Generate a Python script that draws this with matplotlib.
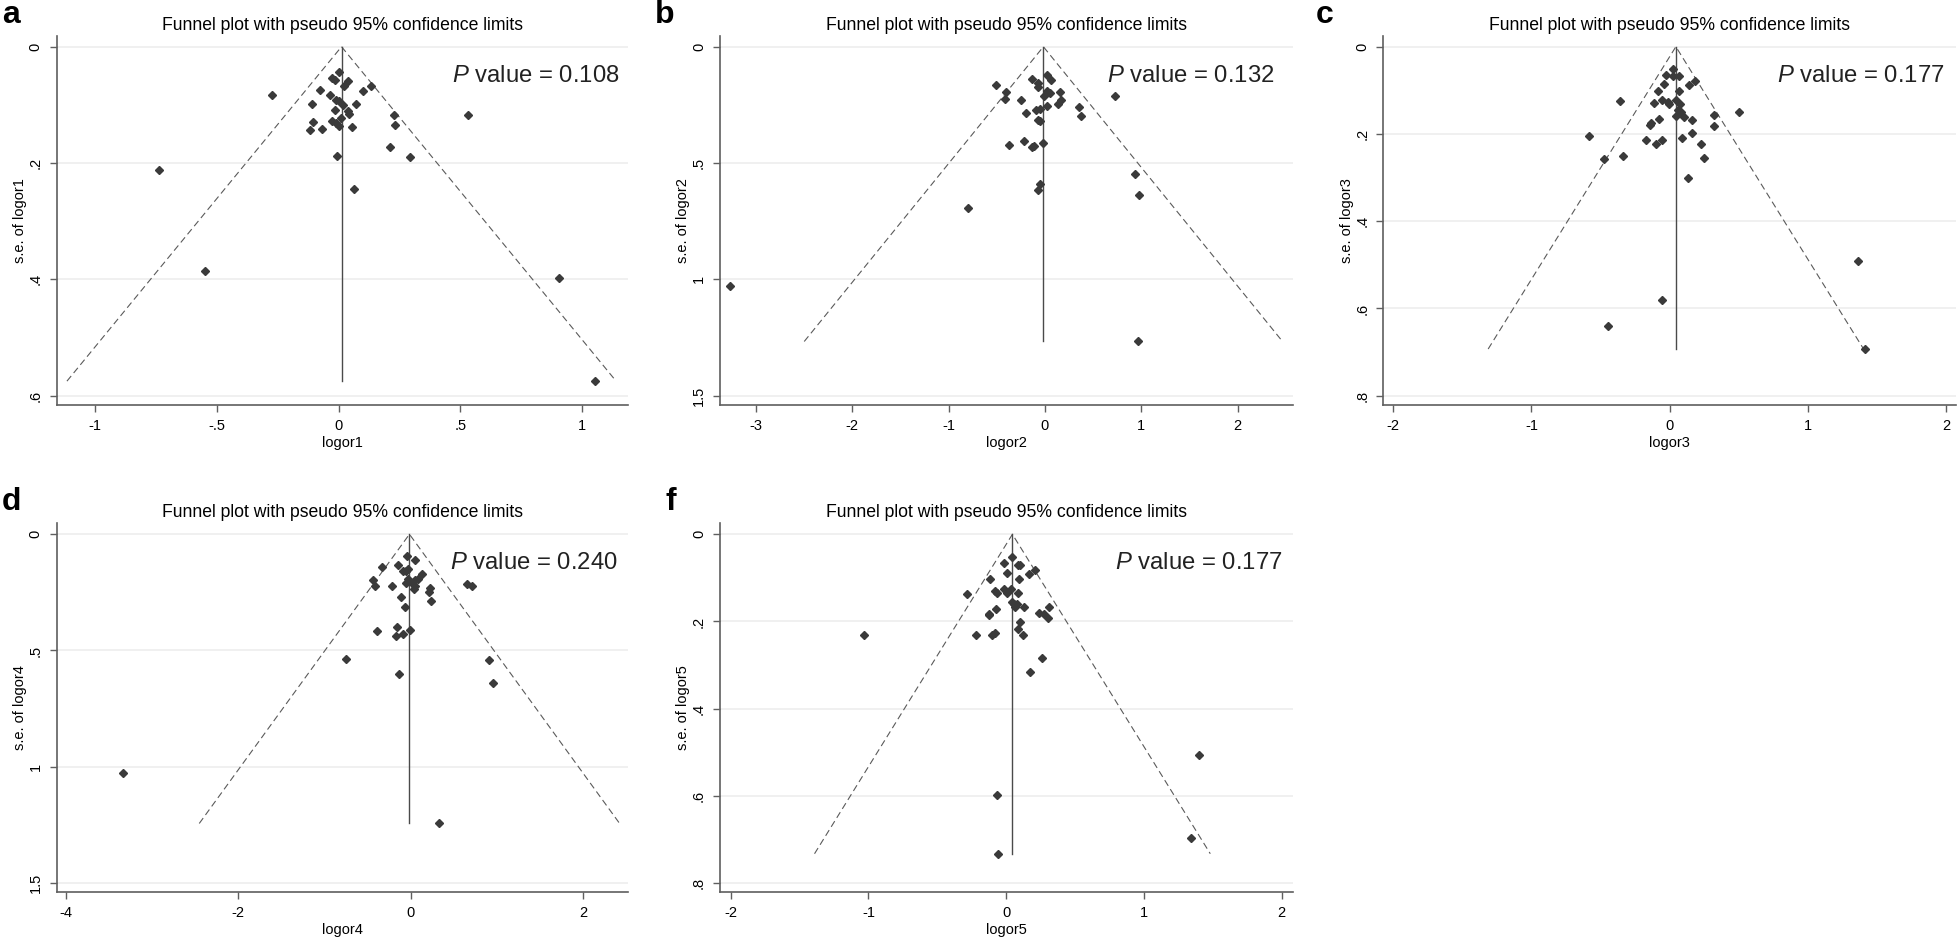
import numpy as np
import matplotlib.pyplot as plt

plt.rcParams['font.family'] = ['Liberation Sans', 'DejaVu Sans']
plt.rcParams['mathtext.fontset'] = 'custom'
plt.rcParams['mathtext.it'] = 'Liberation Sans:italic'
plt.rcParams['mathtext.rm'] = 'Liberation Sans'

# a - logor1 (log odds ratio and its standard error)
logor1 = [0.003, -0.028, -0.014, 0.040, 0.023, 0.133, -0.078, 0.099, -0.275, -0.035,
          -0.009, 0.002, -0.111, 0.071, 0.017, -0.014, 0.038, 0.043, 0.229, 0.530,
          0.009, -0.107, -0.029, -0.009, 0.003, 0.232, 0.054, -0.068, -0.119, 0.210,
          -0.005, 0.294, -0.736, 0.064, -0.547, 0.904, 1.053]
se1 = [0.044, 0.053, 0.058, 0.059, 0.068, 0.068, 0.074, 0.076, 0.083, 0.083,
       0.091, 0.093, 0.098, 0.098, 0.101, 0.108, 0.111, 0.116, 0.117, 0.118,
       0.122, 0.129, 0.128, 0.131, 0.136, 0.135, 0.138, 0.142, 0.144, 0.172,
       0.188, 0.190, 0.212, 0.244, 0.386, 0.397, 0.575]
pooled1 = 0.012

# b - logor2
logor2 = [-3.275, -0.510, -0.406, -0.410, -0.253, -0.198, -0.135, -0.072, -0.072, 0.018,
          0.068, 0.023, 0.050, -0.014, 0.153, 0.167, 0.131, 0.018, -0.090, -0.054,
          -0.068, -0.054, 0.356, 0.379, 0.731, -0.374, -0.221, -0.135, -0.117, -0.018,
          -0.050, -0.072, -0.794, 0.934, 0.979, 0.965]
se2 = [1.027, 0.164, 0.196, 0.224, 0.230, 0.287, 0.138, 0.157, 0.172, 0.120,
       0.143, 0.190, 0.201, 0.213, 0.193, 0.229, 0.247, 0.256, 0.270, 0.267,
       0.315, 0.321, 0.261, 0.299, 0.210, 0.421, 0.405, 0.431, 0.425, 0.413,
       0.588, 0.616, 0.695, 0.547, 0.639, 1.267]
pooled2 = -0.016

# c - logor3
logor3 = [0.021, -0.030, 0.027, 0.070, 0.186, 0.143, -0.040, -0.085, 0.067, -0.359,
          -0.113, -0.058, -0.015, -0.006, 0.043, 0.076, 0.064, 0.079, 0.046, 0.101,
          0.500, 0.320, -0.079, 0.161, -0.137, -0.143, 0.320, -0.582, 0.161, 0.091,
          -0.174, -0.097, -0.058, 0.228, -0.472, -0.341, 0.250, 0.131, 1.362, -0.058,
          -0.445, 1.410]
se3 = [0.051, 0.064, 0.067, 0.067, 0.078, 0.088, 0.086, 0.101, 0.101, 0.125,
       0.129, 0.122, 0.126, 0.131, 0.123, 0.131, 0.146, 0.150, 0.160, 0.162,
       0.150, 0.157, 0.165, 0.169, 0.175, 0.179, 0.182, 0.204, 0.197, 0.209,
       0.215, 0.223, 0.215, 0.222, 0.257, 0.251, 0.254, 0.301, 0.491, 0.581,
       0.640, 0.693]
pooled3 = 0.045

# d - logor4
logor4 = [-0.044, 0.049, -0.329, -0.142, -0.093, -0.054, -0.029, 0.132, -0.029, 0.044,
          0.083, -0.054, 0.020, 0.054, 0.034, -0.442, -0.412, -0.221, 0.226, 0.211,
          0.236, 0.657, 0.711, -0.118, -0.069, -0.162, -0.397, -0.172, -0.093, -0.005,
          -0.751, 0.913, -0.132, 0.952, -3.337, 0.324]
se4 = [0.092, 0.110, 0.143, 0.132, 0.160, 0.156, 0.150, 0.170, 0.192, 0.196,
       0.193, 0.211, 0.208, 0.221, 0.236, 0.199, 0.222, 0.221, 0.231, 0.249,
       0.287, 0.213, 0.222, 0.269, 0.315, 0.397, 0.415, 0.436, 0.427, 0.411,
       0.537, 0.543, 0.602, 0.639, 1.026, 1.244]
pooled4 = -0.015

# f - logor5
logor5 = [0.044, -0.019, 0.082, 0.101, 0.211, 0.167, 0.006, -0.116, 0.094, -0.286,
          -0.079, -0.069, -0.013, 0.035, 0.003, 0.088, 0.044, 0.057, 0.079, 0.066,
          0.126, 0.314, -0.075, 0.236, 0.274, -0.126, -0.126, 0.305, 0.097, 0.088,
          -1.035, -0.217, -0.104, -0.079, 0.119, 0.261, 0.176, 1.399, -0.069, 1.340,
          -0.057]
se5 = [0.053, 0.066, 0.071, 0.071, 0.083, 0.090, 0.088, 0.103, 0.103, 0.136,
       0.129, 0.135, 0.126, 0.126, 0.135, 0.135, 0.155, 0.160, 0.160, 0.168,
       0.167, 0.166, 0.172, 0.180, 0.183, 0.182, 0.186, 0.193, 0.202, 0.217,
       0.232, 0.232, 0.232, 0.226, 0.232, 0.284, 0.316, 0.507, 0.599, 0.698,
       0.733]
pooled5 = 0.045

pvalues = ['0.108', '0.132', '0.177', '0.240', '0.177']

TITLE = 'Funnel plot with pseudo 95% confidence limits'
SPINE = '#5f5f5f'

W, H = 1959, 940
fig = plt.figure(figsize=(W / 100, H / 100), dpi=100)


def draw_panel(left, top, width, height, x, se, pooled, name,
               xlim, ylim, xticks, xlabels, yticks, ylabels,
               letter, letter_x, pval, pval_x):
    ax = fig.add_axes([left / W, 1 - (top + height) / H, width / W, height / H])
    smax = max(se)
    # pseudo 95% limits and pooled estimate
    ax.plot([pooled - 1.96 * smax, pooled, pooled + 1.96 * smax], [smax, 0, smax],
            color='#5a5a5a', lw=0.8, ls=(0, (6, 3.5)), zorder=2)
    ax.plot([pooled, pooled], [0, smax], color='#4a4a4a', lw=1.0, zorder=2)
    ax.plot(x, se, ls='none', marker='D', ms=4.3, color='#3a3a3a', mec='#3a3a3a', zorder=3)

    ax.set_xlim(xlim)
    ax.set_ylim(ylim)
    ax.set_xticks(xticks)
    ax.set_xticklabels(xlabels)
    ax.set_yticks(yticks)
    ax.set_yticklabels(ylabels, rotation=90, va='center')
    ax.tick_params(length=5, width=1.0, color=SPINE, pad=5, labelsize=10.5)
    ax.grid(axis='y', color='#eeeeee', lw=1.2, zorder=0)
    ax.set_axisbelow(True)
    for s in ['top', 'right']:
        ax.spines[s].set_visible(False)
    for s in ['left', 'bottom']:
        ax.spines[s].set_color(SPINE)
        ax.spines[s].set_linewidth(1.2)

    ax.set_xlabel(name, fontsize=10.5, va='center')
    ax.xaxis.set_label_coords(0.5, -38 / height)
    ax.set_ylabel('s.e. of ' + name, fontsize=10.5, va='center')
    ax.yaxis.set_label_coords(-36.7 / width, 0.5)

    # title, panel letter and Egger P value
    fig.text((left + width / 2) / W, 1 - (top - 6) / H, TITLE,
             ha='center', va='baseline', fontsize=12.7)
    fig.text(letter_x / W, 1 - (top - 13) / H, letter, ha='left', va='baseline',
             fontsize=23, fontweight='bold')
    fig.text(pval_x / W, 1 - (top + 40) / H, r'$\mathit{P}$ value = ' + pval,
             ha='right', va='center', fontsize=17.2, color='#222222')
    return ax


row1, row2 = 36, 523.3
hgt = 369

draw_panel(56.7, row1, 571.6, hgt, logor1, se1, pooled1, 'logor1',
           (-1.157, 1.189), (0.616, -0.0184),
           [-1, -0.5, 0, 0.5, 1], ['-1', '-.5', '0', '.5', '1'],
           [0, 0.2, 0.4, 0.6], ['0', '.2', '.4', '.6'],
           'a', 2, pvalues[0], 620)

draw_panel(720, row1, 572.7, hgt, logor2, se2, pooled2, 'logor2',
           (-3.374, 2.573), (1.540, -0.046),
           [-3, -2, -1, 0, 1, 2], ['-3', '-2', '-1', '0', '1', '2'],
           [0, 0.5, 1, 1.5], ['0', '.5', '1', '1.5'],
           'b', 655, pvalues[1], 1274)

draw_panel(1383.3, row1, 572.7, hgt, logor3, se3, pooled3, 'logor3',
           (-2.072, 2.072), (0.8213, -0.0245),
           [-2, -1, 0, 1, 2], ['-2', '-1', '0', '1', '2'],
           [0, 0.2, 0.4, 0.6, 0.8], ['0', '.2', '.4', '.6', '.8'],
           'c', 1316, pvalues[2], 1944)

draw_panel(56.7, row2, 571, hgt, logor4, se4, pooled4, 'logor4',
           (-4.107, 2.517), (1.540, -0.047),
           [-4, -2, 0, 2], ['-4', '-2', '0', '2'],
           [0, 0.5, 1, 1.5], ['0', '.5', '1', '1.5'],
           'd', 2, pvalues[3], 618)

draw_panel(720, row2, 572.7, hgt, logor5, se5, pooled5, 'logor5',
           (-2.078, 2.080), (0.8215, -0.0252),
           [-2, -1, 0, 1, 2], ['-2', '-1', '0', '1', '2'],
           [0, 0.2, 0.4, 0.6, 0.8], ['0', '.2', '.4', '.6', '.8'],
           'f', 665, pvalues[4], 1282)

plt.savefig('out.png', dpi=100)
